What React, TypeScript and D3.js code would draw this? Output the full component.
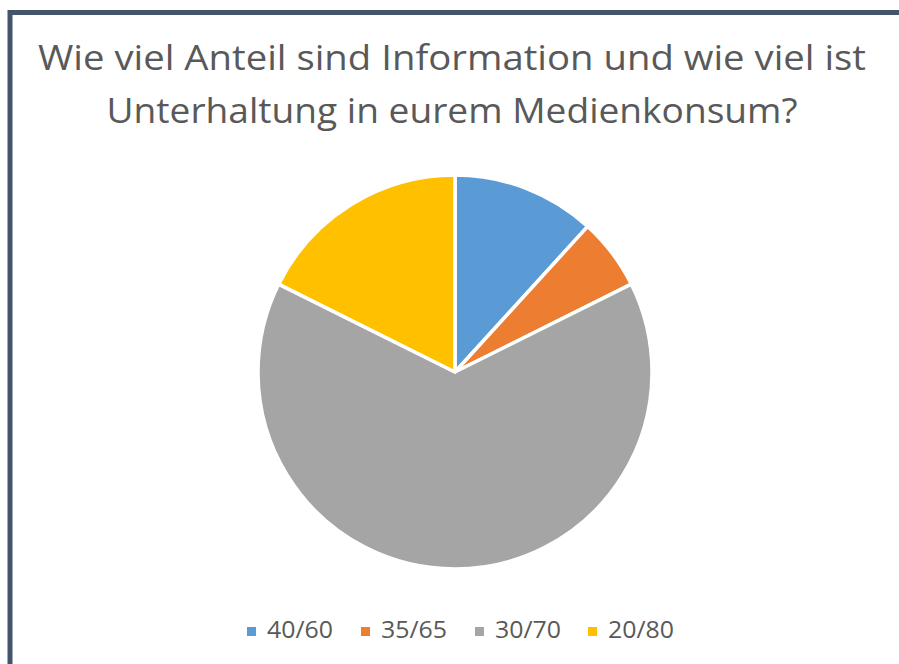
import React from "react";
import * as d3 from "d3";

const categories = ["40/60", "35/65", "30/70", "20/80"];
const values = [2, 1, 11, 3];
const colors = ["#5B9BD5", "#ED7D31", "#A5A5A5", "#FFC000"];
const titleLines = [
  "Wie viel Anteil sind Information und wie viel ist",
  "Unterhaltung in eurem Medienkonsum?",
];

export default function App() {
  const W = 899, H = 664;
  const cx = 455, cy = 372, r = 197;
  const pie = d3.pie<number>().sort(null).value((d) => d)(values);
  const arc = d3.arc<d3.PieArcDatum<number>>().innerRadius(0).outerRadius(r);
  const legendX = [247, 361, 475, 588];
  const titleLen = [828, 691];
  const font = "'Open Sans', 'Noto Sans', sans-serif";
  return (
    <svg width={W} height={H} style={{ position: "absolute", left: 0, top: 0 }}>
      <rect x={0} y={0} width={W} height={H} fill="#fff" />
      <line x1={10} y1={12.5} x2={W} y2={12.5} stroke="#44546A" strokeWidth={5} />
      <line x1={10} y1={10} x2={10} y2={H} stroke="#44546A" strokeWidth={5} />
      {titleLines.map((t, i) => (
        <text key={i} x={452} y={70 + i * 53} textAnchor="middle" fontFamily={font}
          fontSize={35} fill="#595959" textLength={titleLen[i]} lengthAdjust="spacingAndGlyphs">{t}</text>
      ))}
      <g transform={`translate(${cx},${cy})`}>
        {pie.map((p, i) => (
          <path key={i} d={arc(p) || ""} fill={colors[i]} stroke="#fff" strokeWidth={3.5} strokeLinejoin="round" />
        ))}
      </g>
      {categories.map((c, i) => (
        <g key={c}>
          <rect x={legendX[i]} y={627} width={9} height={9} fill={colors[i]} />
          <text x={legendX[i] + 20} y={638} fontFamily={font} fontSize={24} fill="#595959"
            textLength={66} lengthAdjust="spacingAndGlyphs">{c}</text>
        </g>
      ))}
    </svg>
  );
}
